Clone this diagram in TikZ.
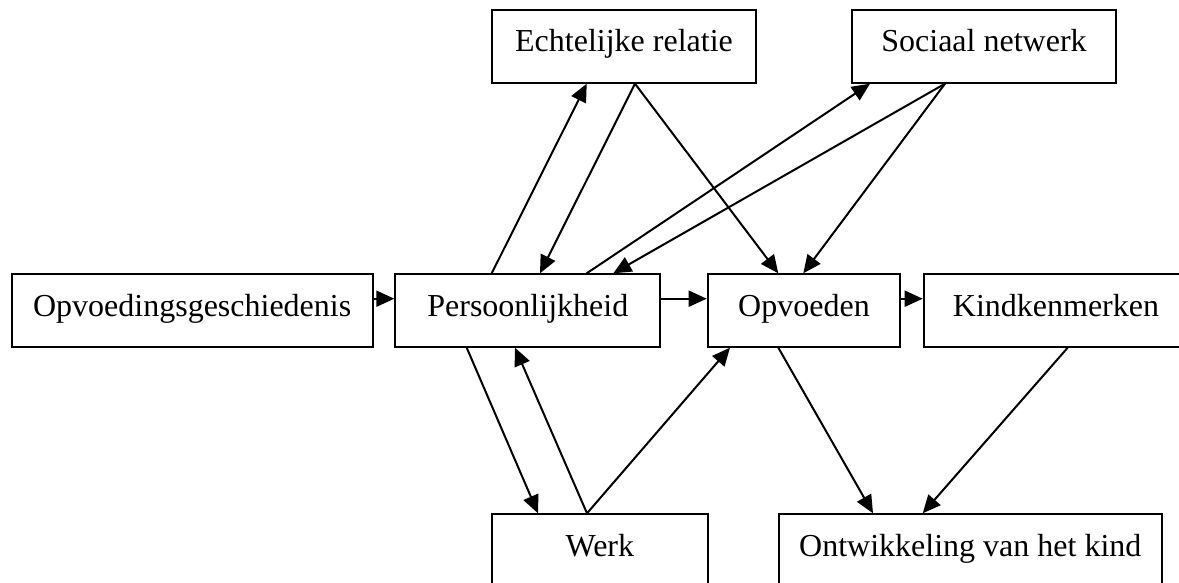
\documentclass[tikz,border=0pt]{standalone}
\usepackage{fontspec}
\setmainfont{Liberation Serif}
\usetikzlibrary{arrows.meta}

\begin{document}
\begin{tikzpicture}[x=1pt, y=-1pt,
		blok/.style={draw, line width=2pt, rectangle, inner sep=0pt, anchor=north west,
			minimum height=72.4pt, text height=20pt, text depth=9pt,
			font=\fontsize{32}{38}\selectfont},
		pijl/.style={line width=2pt, -{Triangle[length=18pt, width=16pt]}}]
			
			% Vaste afmetingen van de tekening
			\useasboundingbox (0,0) rectangle (1179,583);
			
			% De middelste rij blokken
			\node[blok, minimum width=361pt] (ges) at (10.7,273.3) {Opvoedingsgeschiedenis};
			\node[blok, minimum width=265pt] (pers) at (394.3,273.3) {Persoonlijkheid};
			\node[blok, minimum width=192.6pt] (opv) at (706.7,273.3) {Opvoeden};
			\node[blok, minimum width=264.6pt] (kind) at (922.7,273.3) {Kindkenmerken};
			
			% Bovenste blokken
			\node[blok, minimum width=264pt] (echt) at (491,9.3) {Echtelijke relatie};
			\node[blok, minimum width=264pt] (soc) at (851,9.3) {Sociaal netwerk};
			
			% Onderste blokken
			\node[blok, minimum width=215.7pt] (werk) at (491,513.3) {Werk};
			\node[blok, minimum width=383.4pt] (ontw) at (777.6,513.3) {Ontwikkeling van het kind};
			
			% Horizontale pijlen
			\draw[pijl] ([yshift=11.8pt]ges.east) -- ([yshift=11.8pt]pers.west);
			\draw[pijl] ([yshift=11.8pt]pers.east) -- ([yshift=11.8pt]opv.west);
			\draw[pijl] ([yshift=11.8pt]opv.east) -- ([yshift=11.8pt]kind.west);
			
			% Echtelijke relatie
			\draw[pijl] ([xshift=97.4pt]pers.north west) -- ([xshift=95.7pt]echt.south west);
			\draw[pijl] ([xshift=144pt]echt.south west) -- ([xshift=145.7pt]pers.north west);
			\draw[pijl] ([xshift=144pt]echt.south west) -- ([xshift=71.6pt]opv.north west);
			
			% Sociaal netwerk
			\draw[pijl] ([xshift=192.4pt]pers.north west) -- ([xshift=19pt]soc.south west);
			\draw[pijl] ([xshift=94pt]soc.south west) -- ([xshift=219pt]pers.north west);
			\draw[pijl] ([xshift=94pt]soc.south west) -- ([xshift=96.6pt]opv.north west);
			
			% Werk
			\draw[pijl] ([xshift=72.4pt]pers.south west) -- ([xshift=47pt]werk.north west);
			\draw[pijl] ([xshift=96pt]werk.north west) -- ([xshift=120.7pt]pers.south west);
			\draw[pijl] ([xshift=96pt]werk.north west) -- ([xshift=23.3pt]opv.south west);
			
			% Ontwikkeling van het kind
			\draw[pijl] ([xshift=71.6pt]opv.south west) -- ([xshift=95.4pt]ontw.north west);
			\draw[pijl] ([xshift=145pt]kind.south west) -- ([xshift=145.1pt]ontw.north west);
			
		\end{tikzpicture}
\end{document}
